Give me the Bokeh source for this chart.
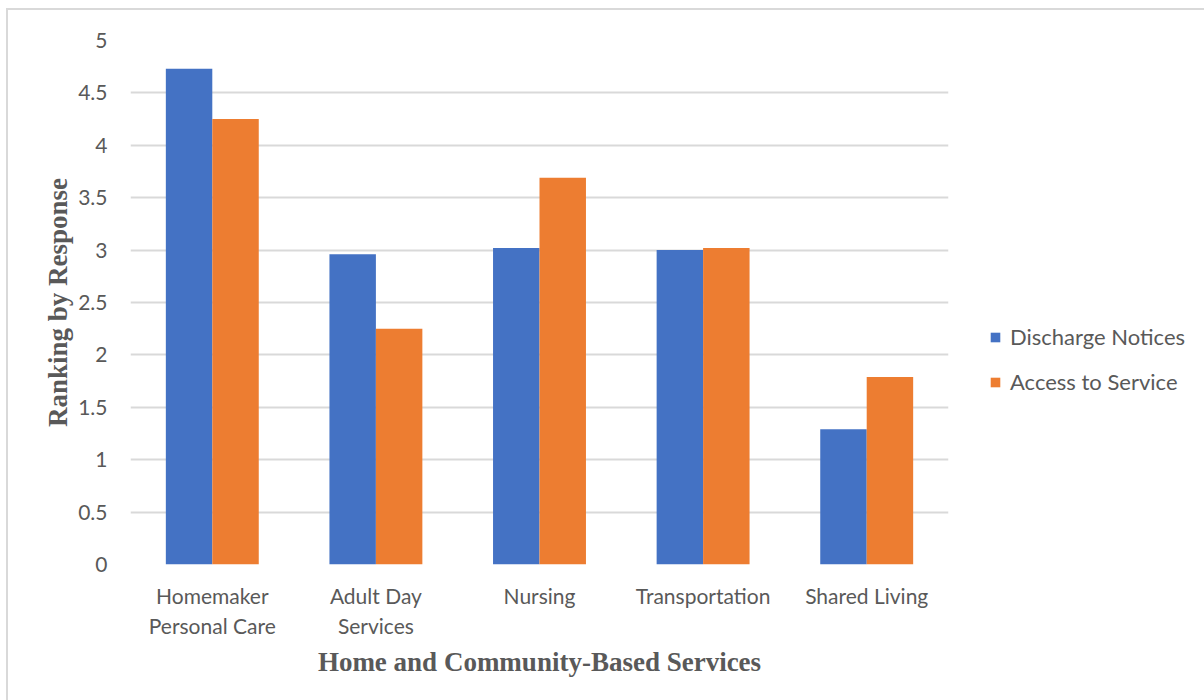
from bokeh.plotting import figure
from bokeh.models import FactorRange, Legend, LegendItem, Range1d, FixedTicker, ColumnDataSource
from bokeh.transform import dodge
from bokeh.embed import file_html
from bokeh.resources import INLINE

categories = ["Homemaker\nPersonal Care", "Adult Day\nServices", "Nursing", "Transportation", "Shared Living"]
discharge = [4.73, 2.96, 3.02, 3.00, 1.29]
access = [4.25, 2.25, 3.69, 3.02, 1.79]
series = ["Discharge Notices", "Access to Service"]
colors = ["#4472C4", "#ED7D31"]
y_ticks = [0, 0.5, 1, 1.5, 2, 2.5, 3, 3.5, 4, 4.5, 5]

src = ColumnDataSource(dict(cat=categories, d=discharge, a=access))

p = figure(x_range=FactorRange(*categories), y_range=Range1d(0, 5),
           frame_width=818, frame_height=524, output_backend="svg", toolbar_location=None,
           min_border_left=122, min_border_right=0, min_border_top=30,
           min_border_bottom=136)
p.margin = (10, 0, 0, 8)
p.styles = {"outline": "2px solid #d9d9d9"}
p.outline_line_color = None
p.x_range.range_padding = 0

bw = 0.284
r1 = p.vbar(x=dodge("cat", -bw / 2, range=p.x_range), top="d", width=bw, source=src,
            color=colors[0], line_color=None)
r2 = p.vbar(x=dodge("cat", bw / 2, range=p.x_range), top="a", width=bw, source=src,
            color=colors[1], line_color=None)

font = "Lato"
grey = "#595959"

p.yaxis.ticker = FixedTicker(ticks=y_ticks)
p.yaxis.major_label_overrides = {t: (str(t) if t != int(t) else str(int(t))) for t in y_ticks}
p.yaxis.axis_line_color = None
p.yaxis.major_tick_line_color = None
p.yaxis.minor_tick_line_color = None
p.yaxis.major_label_standoff = 17
p.yaxis.major_label_text_font = font
p.yaxis.major_label_text_font_size = "21px"
p.yaxis.major_label_text_color = grey
p.yaxis.axis_label = "Ranking by Response"
p.yaxis.axis_label_text_font = "Liberation Serif"
p.yaxis.axis_label_text_font_style = "bold"
p.yaxis.axis_label_text_font_size = "27px"
p.yaxis.axis_label_text_color = grey
p.yaxis.axis_label_standoff = 2

p.xaxis.axis_line_color = None
p.xaxis.major_tick_line_color = None
p.xaxis.minor_tick_line_color = None
p.xaxis.major_label_standoff = 12
p.xaxis.major_label_text_font = font
p.xaxis.major_label_text_font_size = "21px"
p.xaxis.major_label_text_color = grey
p.xaxis.major_label_text_line_height = 1.2
p.xaxis.axis_label = "Home and Community-Based Services"
p.xaxis.axis_label_text_font = "Liberation Serif"
p.xaxis.axis_label_text_font_style = "bold"
p.xaxis.axis_label_text_font_size = "27px"
p.xaxis.axis_label_text_color = grey
p.xaxis.axis_label_standoff = 6

p.xgrid.grid_line_color = None
p.ygrid.grid_line_color = "#d9d9d9"
p.ygrid.grid_line_width = 2

legend = Legend(items=[LegendItem(label=series[0], renderers=[r1]),
                       LegendItem(label=series[1], renderers=[r2])],
                location=(41, 169), padding=0, margin=0, border_line_color=None,
                background_fill_alpha=0, glyph_width=12, glyph_height=12,
                label_standoff=9, spacing=18, label_text_font=font,
                label_text_font_size="22px", label_text_color=grey, label_height=22)
p.add_layout(legend, "right")

open("out.html", "w").write(file_html(p, INLINE))
